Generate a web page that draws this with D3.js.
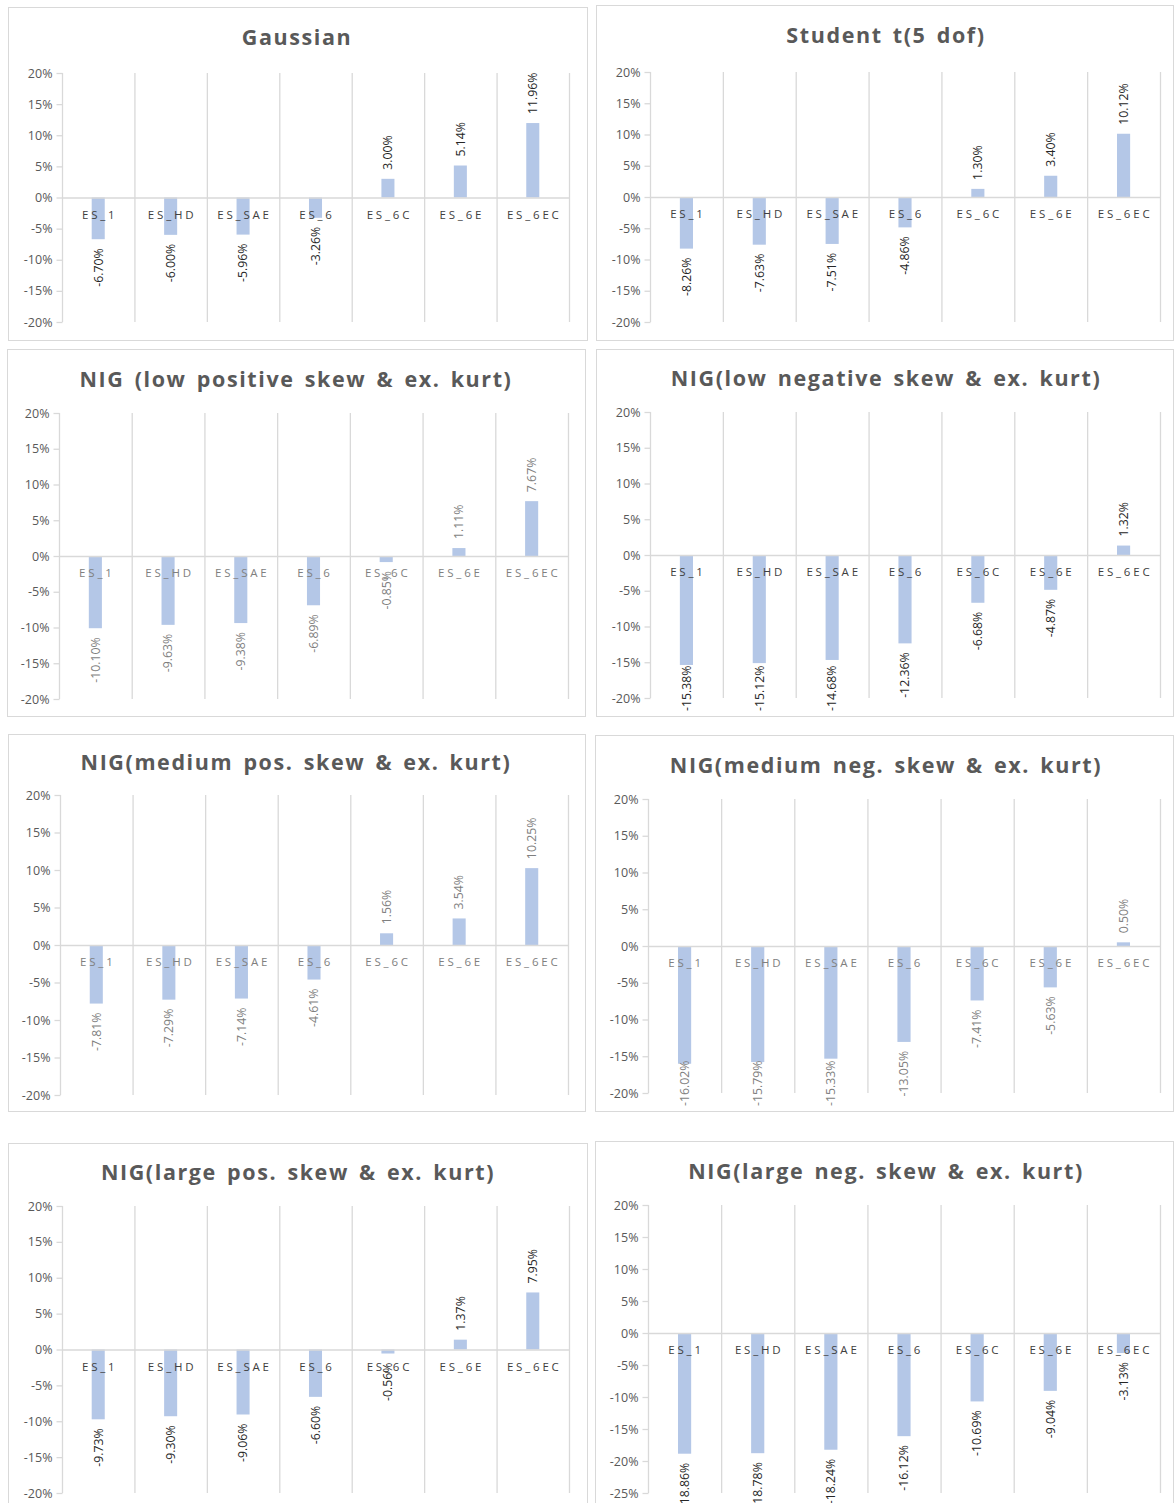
<!DOCTYPE html>
<html>
<head>
<meta charset="utf-8">
<script src="https://cdn.jsdelivr.net/npm/d3@7"></script>
<style>
  body { margin: 0; background: #fff; }
  svg { display: block; font-family: "Open Sans", sans-serif; }
</style>
</head>
<body>
<svg id="chart" width="1174" height="1503"></svg>
<script>
  // categories shared by every panel
  var categories = ["ES_1", "ES_HD", "ES_SAE", "ES_6", "ES_6C", "ES_6E", "ES_6EC"];

  var titles = [
    "Gaussian",
    "Student t(5 dof)",
    "NIG (low positive skew & ex. kurt)",
    "NIG(low negative skew & ex. kurt)",
    "NIG(medium pos. skew & ex. kurt)",
    "NIG(medium neg. skew & ex. kurt)",
    "NIG(large pos. skew & ex. kurt)",
    "NIG(large neg. skew & ex. kurt)"
  ];

  // values in percent
  var gaussian      = [-6.70, -6.00, -5.96, -3.26, 3.00, 5.14, 11.96];
  var studentT      = [-8.26, -7.63, -7.51, -4.86, 1.30, 3.40, 10.12];
  var nigLowPos     = [-10.10, -9.63, -9.38, -6.89, -0.85, 1.11, 7.67];
  var nigLowNeg     = [-15.38, -15.12, -14.68, -12.36, -6.68, -4.87, 1.32];
  var nigMediumPos  = [-7.81, -7.29, -7.14, -4.61, 1.56, 3.54, 10.25];
  var nigMediumNeg  = [-16.02, -15.79, -15.33, -13.05, -7.41, -5.63, 0.50];
  var nigLargePos   = [-9.73, -9.30, -9.06, -6.60, -0.56, 1.37, 7.95];
  var nigLargeNeg   = [-18.86, -18.78, -18.24, -16.12, -10.69, -9.04, -3.13];

  var series = [gaussian, studentT, nigLowPos, nigLowNeg, nigMediumPos, nigMediumNeg, nigLargePos, nigLargeNeg];

  // y axis ranges (ticks every 5%)
  var yMin = [-20, -20, -20, -20, -20, -20, -20, -25];
  var yMax = [20, 20, 20, 20, 20, 20, 20, 20];

  // layout of each chart box: box, plot area, title centre
  var layout = [
    {box: [8, 7, 579, 333],     px: [62, 569],   py: [73, 322],    ty: 37,   tx: 297},
    {box: [596, 5, 577, 335],   px: [650, 1160], py: [72, 322],    ty: 35,   tx: 886},
    {box: [7, 349, 578, 367],   px: [59, 568],   py: [413, 699],   ty: 379,  tx: 296},
    {box: [596, 349, 577, 367], px: [650, 1160], py: [412, 698],   ty: 378,  tx: 886},
    {box: [8, 734, 577, 377],   px: [60, 568],   py: [795, 1095],  ty: 762,  tx: 296},
    {box: [595, 735, 578, 376], px: [648, 1160], py: [799, 1093],  ty: 765,  tx: 886},
    {box: [8, 1143, 579, 380],  px: [62, 569],   py: [1206, 1493], ty: 1172, tx: 298},
    {box: [595, 1141, 578, 380],px: [648, 1160], py: [1205, 1493], ty: 1171, tx: 886}
  ];
  // some charts were rendered with grey labels, others dark
  var labelTone = ["#262626", "#262626", "#7f7f7f", "#262626", "#7f7f7f", "#7f7f7f", "#262626", "#262626"];

  var svg = d3.select("#chart");
  var gridColor = "#d9d9d9";
  var barColor = "#b4c7e7";

  series.forEach(function (values, p) {
    var L = layout[p];
    var g = svg.append("g");

    g.append("rect")
      .attr("x", L.box[0] + 0.5).attr("y", L.box[1] + 0.5)
      .attr("width", L.box[2]).attr("height", L.box[3])
      .attr("fill", "#fff").attr("stroke", gridColor);

    g.append("text")
      .attr("x", L.tx).attr("y", L.ty)
      .attr("dy", "0.35em")
      .attr("text-anchor", "middle")
      .attr("font-size", 21.5)
      .attr("font-weight", 700)
      .attr("letter-spacing", "1.6px")
      .attr("word-spacing", "3px")
      .attr("fill", "#595959")
      .text(titles[p]);

    var x = d3.scaleBand().domain(categories).range(L.px).paddingInner(0).paddingOuter(0);
    var y = d3.scaleLinear().domain([yMin[p], yMax[p]]).range([L.py[1], L.py[0]]);

    // category separators
    var edges = categories.map(function (c) { return x(c); }).concat([L.px[1]]);
    g.selectAll("line.sep").data(edges).enter().append("line")
      .attr("x1", function (d) { return d + 0.5; }).attr("x2", function (d) { return d + 0.5; })
      .attr("y1", L.py[0]).attr("y2", L.py[1])
      .attr("stroke", gridColor).attr("stroke-width", 1.3);

    // y axis
    var yAxis = d3.axisLeft(y)
      .tickValues(d3.range(yMin[p], yMax[p] + 1, 5))
      .tickFormat(function (d) { return d + "%"; })
      .tickSize(6).tickPadding(4);
    var ya = g.append("g").attr("transform", "translate(" + (L.px[0] + 0.5) + ",0)").call(yAxis);
    ya.select(".domain").remove();
    ya.selectAll("line").attr("stroke", gridColor).attr("stroke-width", 1.3);
    ya.selectAll("text").attr("fill", "#595959").attr("font-size", 12.5).attr("font-family", "Open Sans");

    // bars
    var bw = x.bandwidth() * 0.18;
    g.selectAll("rect.bar").data(values).enter().append("rect")
      .attr("x", function (d, i) { return x(categories[i]) + x.bandwidth() / 2 - bw / 2; })
      .attr("y", function (d) { return y(Math.max(0, d)); })
      .attr("width", bw)
      .attr("height", function (d) { return Math.abs(y(d) - y(0)); })
      .attr("fill", barColor);

    // zero line
    g.append("line")
      .attr("x1", L.px[0]).attr("x2", L.px[1])
      .attr("y1", y(0) + 0.5).attr("y2", y(0) + 0.5)
      .attr("stroke", gridColor).attr("stroke-width", 1.3);

    // category labels
    g.selectAll("text.cat").data(categories).enter().append("text")
      .attr("x", function (c) { return x(c) + x.bandwidth() / 2 + 1.5; })
      .attr("y", y(0) + 21)
      .attr("text-anchor", "middle")
      .attr("font-size", 11.5)
      .attr("letter-spacing", "2.8px")
      .attr("fill", labelTone[p] === "#262626" ? "#404040" : "#808080")
      .text(function (c) { return c; });

    // rotated value labels
    var boxBottom = L.box[1] + L.box[3];
    g.selectAll("text.val").data(values).enter().append("text")
      .attr("font-size", 12.3)
      .attr("fill", labelTone[p])
      .attr("dy", "0.35em")
      .text(function (d) { return d.toFixed(2) + "%"; })
      .each(function (d, i) {
        var t = d3.select(this);
        var len = this.getComputedTextLength();
        var cx = x(categories[i]) + x.bandwidth() / 2;
        if (d < 0) {
          var top = Math.min(y(d) + 9, boxBottom - 5 - len);
          t.attr("text-anchor", "end")
            .attr("transform", "translate(" + cx + "," + top + ") rotate(-90)");
        } else {
          t.attr("text-anchor", "start")
            .attr("transform", "translate(" + cx + "," + (y(d) - 9) + ") rotate(-90)");
        }
      });
  });
</script>
</body>
</html>
